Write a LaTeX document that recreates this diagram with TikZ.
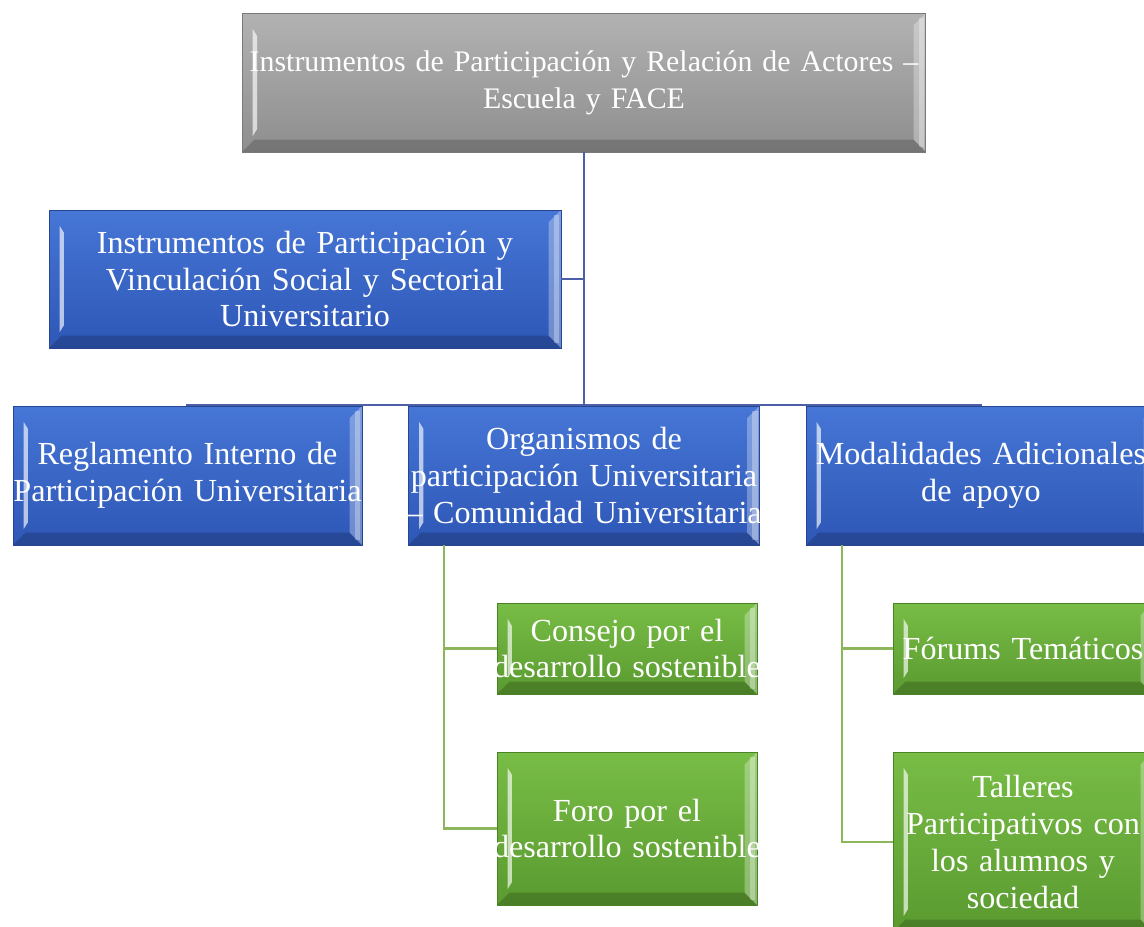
\documentclass[tikz,border=0pt]{standalone}
\usepackage{fontspec}
\setmainfont{Liberation Serif}
\usepackage{tikz}
\usetikzlibrary{calc}
\usepackage{xcolor}

\definecolor{grayTop}{HTML}{B2B2B2}
\definecolor{grayBot}{HTML}{8E8E8E}
\definecolor{grayEdge}{HTML}{7A7A7A}
\definecolor{blueTop}{HTML}{4676D6}
\definecolor{blueBot}{HTML}{2E57B6}
\definecolor{blueEdge}{HTML}{27468F}
\definecolor{greenTop}{HTML}{78BD46}
\definecolor{greenBot}{HTML}{5A9A30}
\definecolor{greenEdge}{HTML}{4A8226}
\definecolor{blueLine}{HTML}{4C5FA8}
\definecolor{greenLine}{HTML}{8DB65C}

% a line that may be a bit wider than its box, kept centred
\newcommand{\fitline}[1]{\makebox[\hsize][c]{#1}}

\tikzset{
  bevel/.style={path picture={
    %% right and bottom faces
    \fill[white,opacity=.30] (path picture bounding box.north east) -- ($(path picture bounding box.north east)+(-7pt,-7pt)$) -- ($(path picture bounding box.south east)+(-7pt,7pt)$) -- (path picture bounding box.south east) -- cycle;
    \fill[white,opacity=.30] ($(path picture bounding box.north east)+(-1pt,-3pt)$) rectangle ($(path picture bounding box.south east)+(-4pt,3pt)$);
    \fill[black,opacity=.18] (path picture bounding box.south west) -- ($(path picture bounding box.south west)+(7pt,7pt)$) -- ($(path picture bounding box.south east)+(-7pt,7pt)$) -- (path picture bounding box.south east) -- cycle;
    %% left highlight
    \fill[white,opacity=.65] ($(path picture bounding box.north west)+(6pt,-9pt)$) -- ($(path picture bounding box.north west)+(8.5pt,-13pt)$) -- ($(path picture bounding box.south west)+(8.5pt,13pt)$) -- ($(path picture bounding box.south west)+(6pt,9pt)$) -- cycle;
  }},
  boxw/.style={text width=#1,minimum width=#1},
  smart/.style={draw,line width=.5pt,inner sep=0pt,align=center,text=white,
    font=\fontsize{18.3}{21}\selectfont,bevel},
  graybox/.style={smart,draw=grayEdge,top color=grayTop,bottom color=grayBot,
    font=\fontsize{17}{21}\selectfont},
  bluebox/.style={smart,draw=blueEdge,top color=blueTop,bottom color=blueBot},
  greenbox/.style={smart,draw=greenEdge,top color=greenTop,bottom color=greenBot},
  blueconn/.style={draw=blueLine,line width=1.3pt},
  greenconn/.style={draw=greenLine,line width=1.3pt},
}

\begin{document}
\begin{tikzpicture}[x=0.02cm,y=-0.02cm]
\useasboundingbox (0,0) rectangle (1144,927);
\clip (0,0) rectangle (1144,927);
\fill[white] (0,0) rectangle (1144,927);

%% upper levels
\node[graybox,boxw=13.68cm,minimum height=2.78cm] (actores) at (584,82.5)
  {\fitline{Instrumentos de Participación y Relación de Actores –}\\Escuela y FACE};
\node[bluebox,boxw=10.24cm,minimum height=2.76cm] (social) at (305,279)
  {Instrumentos de Participación y\\Vinculación Social y Sectorial\\Universitario};

%% second level
\node[bluebox,boxw=6.98cm,minimum height=2.78cm] (reglamento) at (187.5,475.5)
  {Reglamento Interno de\\\fitline{Participación Universitaria}};
\node[bluebox,boxw=7.02cm,minimum height=2.78cm] (organismos) at (584,475.5)
  {Organismos de\\\fitline{participación Universitaria}\\\fitline{– Comunidad Universitaria}};
\node[bluebox,boxw=7cm,minimum height=2.78cm] (modalidades) at (981,475.5)
  {\fitline{Modalidades Adicionales}\\de apoyo};

%% third level
\node[greenbox,boxw=5.2cm,minimum height=1.82cm] (consejo) at (627,648.5)
  {Consejo por el\\\fitline{desarrollo sostenible}};
\node[greenbox,boxw=5.2cm,minimum height=3.06cm] (foro) at (627,828.5)
  {Foro por el\\\fitline{desarrollo sostenible}};
\node[greenbox,boxw=5.2cm,minimum height=1.82cm] (forums) at (1023,648.5)
  {\fitline{Fórums Temáticos}};
\node[greenbox,boxw=5.2cm,minimum height=3.6cm] (talleres) at (1023,842)
  {Talleres\\\fitline{Participativos con}\\los alumnos y\\sociedad};

%% blue connectors
\coordinate (bus) at (584,405);
\draw[blueconn] (actores.south) -- (bus);
\draw[blueconn] (social.east) -- (social.east -| actores.south);
\draw[blueconn] (reglamento.north) |- (bus) -| (modalidades.north);
\draw[blueconn] (bus) -- (organismos.north);

%% green connectors
\coordinate (orgline) at (444,0);
\coordinate (modline) at (842,0);
\draw[greenconn] (organismos.south -| orgline) |- (foro.west);
\draw[greenconn] (orgline |- consejo.west) -- (consejo.west);
\draw[greenconn] (modalidades.south -| modline) |- (talleres.west);
\draw[greenconn] (modline |- forums.west) -- (forums.west);
\end{tikzpicture}
\end{document}
